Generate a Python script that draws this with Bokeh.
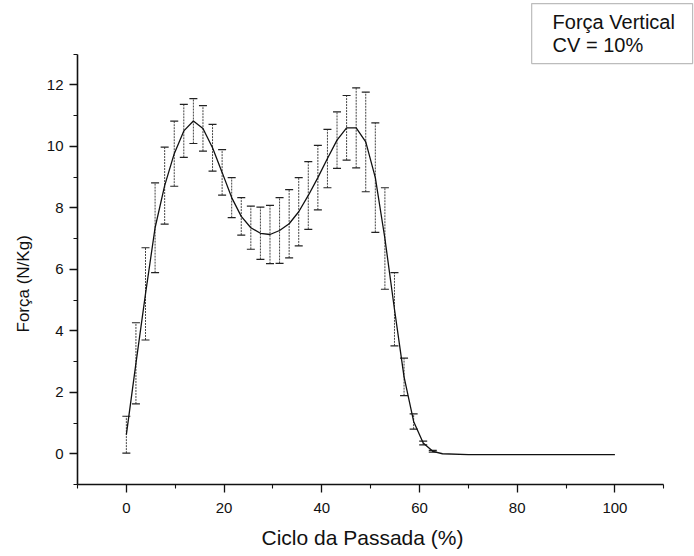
from bokeh.plotting import figure
from bokeh.models import (ColumnDataSource, Range1d, FixedTicker, Whisker, TeeHead,
                          Label, BoxAnnotation, Title)
from bokeh.embed import file_html
from bokeh.resources import INLINE

# ---- data ----
cycle_pct = [0.0, 1.96, 3.92, 5.88, 7.84, 9.8, 11.76, 13.72, 15.68, 17.64, 19.6,
             21.56, 23.52, 25.48, 27.44, 29.4, 31.36, 33.32, 35.28, 37.24, 39.2,
             41.16, 43.12, 45.08, 47.04, 49.0, 50.96, 52.92, 54.88, 56.84, 58.8,
             60.76, 62.72]
force_mean = [0.62, 2.94, 5.2, 7.35, 8.72, 9.76, 10.5, 10.82, 10.58, 9.95, 9.15,
              8.33, 7.72, 7.35, 7.17, 7.13, 7.26, 7.48, 7.87, 8.4, 8.98,
              9.6, 10.2, 10.6, 10.6, 10.14, 8.98, 7.0, 4.7, 2.5, 1.05,
              0.35, 0.08]
force_sd = [0.6, 1.32, 1.5, 1.46, 1.25, 1.06, 0.86, 0.73, 0.74, 0.76, 0.74,
            0.65, 0.61, 0.7, 0.85, 0.95, 1.07, 1.11, 1.11, 1.1, 1.05,
            0.95, 0.92, 1.05, 1.3, 1.62, 1.78, 1.65, 1.19, 0.61, 0.25,
            0.06, 0.03]
tail_pct = [64.7, 70, 80, 90, 100]
tail_force = [0.0, -0.03, -0.03, -0.03, -0.03]

x_major = [0, 20, 40, 60, 80, 100]
x_minor = [-10, 10, 30, 50, 70, 90, 110]
y_major = [0, 2, 4, 6, 8, 10, 12]
y_minor = [-1, 1, 3, 5, 7, 9, 11, 13]
x_axis_span = (-10, 110)
y_axis_span = (-1, 13)

legend_lines = ["Força Vertical", "CV = 10%"]
x_title = "Ciclo da Passada (%)"
y_title = "Força (N/Kg)"

FONT = "Liberation Sans"
INK = "#111111"

# frame extends to the top/right canvas edges so the note box can sit there;
# the axes themselves are limited to the reference spans with `bounds`
p = figure(width=694, height=556, output_backend="svg", toolbar_location=None,
           x_range=Range1d(-10, 116.29), y_range=Range1d(-1, 14.74),
           min_border_left=77, min_border_right=0, min_border_top=0,
           min_border_bottom=71)
p.outline_line_color = None
p.grid.visible = False
p.background_fill_color = "white"
p.border_fill_color = "white"

for ax in (p.xaxis[0], p.yaxis[0]):
    ax.axis_line_color = INK
    ax.axis_line_width = 1.6
    ax.major_tick_line_color = INK
    ax.minor_tick_line_color = INK
    ax.major_tick_line_width = 1.3
    ax.minor_tick_line_width = 1.1
    ax.major_tick_in = 0
    ax.major_tick_out = 8
    ax.minor_tick_in = 0
    ax.minor_tick_out = 4
    ax.major_label_text_font = FONT
    ax.major_label_text_font_size = "15px"
    ax.major_label_text_color = INK

p.xaxis[0].ticker = FixedTicker(ticks=x_major, minor_ticks=x_minor)
p.yaxis[0].ticker = FixedTicker(ticks=y_major, minor_ticks=y_minor)
p.xaxis[0].bounds = x_axis_span
p.yaxis[0].bounds = y_axis_span
p.xaxis[0].major_label_standoff = 10
p.yaxis[0].major_label_standoff = 6

# axis titles as side titles so they can be centred on the axis spans
p.add_layout(Title(text=x_title, align="left", offset=184, standoff=16,
                   text_font=FONT, text_font_size="21px",
                   text_font_style="normal", text_color=INK), "below")
p.add_layout(Title(text=y_title, align="left", offset=152, standoff=22,
                   text_font=FONT, text_font_size="17px",
                   text_font_style="normal", text_color=INK), "left")

upper = [m + s for m, s in zip(force_mean, force_sd)]
lower = [m - s for m, s in zip(force_mean, force_sd)]
src = ColumnDataSource(dict(x=cycle_pct, y=force_mean, upper=upper, lower=lower))

w = Whisker(base="x", upper="upper", lower="lower", source=src,
            line_color="#444444", line_width=1, line_dash="2 1",
            upper_head=TeeHead(size=8, line_color="#222222", line_width=1.2),
            lower_head=TeeHead(size=8, line_color="#222222", line_width=1.2))
p.add_layout(w)

line_x = cycle_pct + tail_pct
line_y = force_mean + tail_force
p.line(line_x, line_y, line_color=INK, line_width=1.3)

box = BoxAnnotation(left=82.96, right=115.9, top=14.64, bottom=12.69,
                    fill_color="white", fill_alpha=1.0,
                    line_color="#222222", line_width=1.2)
p.add_layout(box)
p.add_layout(Label(x=87.25, y=14.03, text=legend_lines[0], text_font=FONT,
                   text_font_size="20px", text_baseline="middle",
                   text_color=INK))
p.add_layout(Label(x=87.25, y=13.28, text=legend_lines[1], text_font=FONT,
                   text_font_size="20px", text_baseline="middle",
                   text_color=INK))

open("out.html", "w").write(file_html(p, INLINE))
